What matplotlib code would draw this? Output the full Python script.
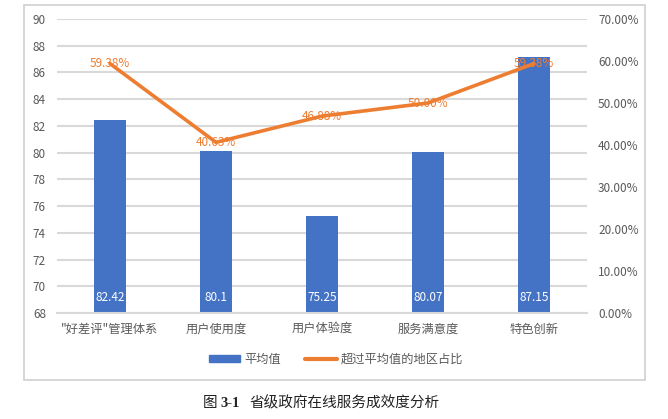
import matplotlib

matplotlib.use("Agg")

import matplotlib.pyplot as plt
from matplotlib.patches import Rectangle
from matplotlib.lines import Line2D
from matplotlib.ticker import FuncFormatter

plt.rcParams["font.family"] = ["Noto Sans CJK SC", "DejaVu Sans"]

categories = ['"好差评"管理体系', "用户使用度", "用户体验度", "服务满意度", "特色创新"]
avg_scores = [82.42, 80.1, 75.25, 80.07, 87.15]
above_avg_share = [59.38, 40.63, 46.88, 50.00, 59.38]
bar_name = "平均值"
line_name = "超过平均值的地区占比"
caption_parts = ["图", "3-1", "省级政府在线服务成效度分析"]

BAR_COLOR = "#4472C4"
LINE_COLOR = "#ED7D31"
TEXT_GRAY = "#595959"
GRID_GRAY = "#D9D9D9"

fig = plt.figure(figsize=(6.68, 4.19), dpi=100)
ax = fig.add_axes([57 / 668, 1 - 313 / 419, 530 / 668, 294 / 419])
ax2 = ax.twinx()

x = list(range(len(categories)))
ax.bar(x, avg_scores, width=0.31, color=BAR_COLOR, zorder=2)
ax.set_ylim(68, 90)
ax.set_yticks(range(68, 91, 2))
ax.set_xlim(-0.5, len(categories) - 0.5)
ax.set_xticks(x)
ax.set_xticklabels(categories)
ax.grid(axis="y", color=GRID_GRAY, linewidth=1.5, zorder=0)
ax.set_axisbelow(True)

for xi, v in zip(x, avg_scores):
    ax.annotate(f"{v:g}", (xi, 68), xytext=(0, 11), textcoords="offset points",
                ha="center", va="center", color="white", fontsize=8.5, zorder=4)

ax2.plot(x, above_avg_share, color=LINE_COLOR, linewidth=2.6, zorder=3,
         solid_capstyle="round")
ax2.set_ylim(0, 70)
ax2.set_yticks(range(0, 71, 10))
ax2.yaxis.set_major_formatter(FuncFormatter(lambda v, p: f"{v:.2f}%"))
for xi, v in zip(x, above_avg_share):
    ax2.text(xi, v, f"{v:.2f}%", ha="center", va="center", color=LINE_COLOR,
             fontsize=8.5, zorder=5)

for a in (ax, ax2):
    for s in a.spines.values():
        s.set_visible(False)
    a.tick_params(length=0, colors=TEXT_GRAY, labelsize=8.5)
ax.spines["bottom"].set_visible(True)
ax.spines["bottom"].set_color(GRID_GRAY)
ax.spines["bottom"].set_linewidth(1.5)
ax.tick_params(axis="y", pad=8)
ax.tick_params(axis="x", pad=7, labelsize=8.8)
ax2.tick_params(axis="y", pad=8)

handles = [Rectangle((0, 0), 1, 1, color=BAR_COLOR),
           Line2D([], [], color=LINE_COLOR, linewidth=3, solid_capstyle="round")]
leg = fig.legend(handles, [bar_name, line_name], loc="center", ncol=2,
                 bbox_to_anchor=(336 / 668, 1 - 359 / 419), frameon=False,
                 fontsize=8.8, handlelength=2.6, handleheight=0.5,
                 columnspacing=2.0, handletextpad=0.3)
for t in leg.get_texts():
    t.set_color(TEXT_GRAY)

# outer chart frame
fig.add_artist(Rectangle((24 / 668, 1 - 380 / 419), 621 / 668, 375 / 419,
                         transform=fig.transFigure, fill=False,
                         edgecolor="#D0D0D0", linewidth=1.2))

cap_y = 1 - 403 / 419
fig.text(203 / 668, cap_y, caption_parts[0], ha="left", va="center",
         fontsize=10.5, color="#222222")
fig.text(220 / 668, cap_y, caption_parts[1], ha="left", va="center",
         fontsize=10.5, color="#222222", family="Liberation Serif", weight="bold")
fig.text(249 / 668, cap_y, caption_parts[2], ha="left", va="center",
         fontsize=10.5, color="#222222")

fig.savefig("out.png", dpi=100)
